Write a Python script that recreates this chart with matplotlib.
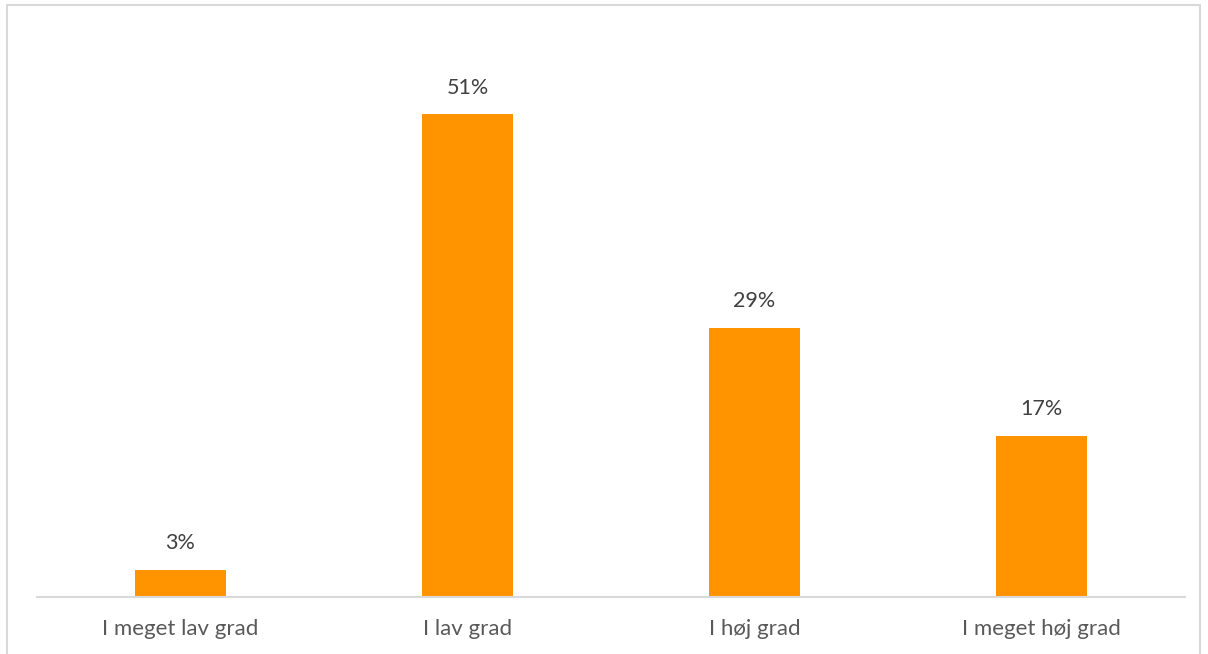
import matplotlib.pyplot as plt
from matplotlib.patches import Rectangle

categories = ["I meget lav grad", "I lav grad", "I høj grad", "I meget høj grad"]
values = [2.9, 51.0, 28.4, 17.0]
value_labels = ["3%", "51%", "29%", "17%"]

plt.rcParams['font.family'] = ['Lato', 'DejaVu Sans']

fig = plt.figure(figsize=(12.08, 6.54), dpi=100)
W, H = 1208, 654

# outer chart border
fig.patches.append(Rectangle((7 / W, -0.02), (1200 - 7) / W, 1.02 - 5 / H - 0.0,
                             transform=fig.transFigure, fill=False,
                             edgecolor='#D9D9D9', linewidth=1.5))

ax = fig.add_axes([37 / W, (H - 597) / H, (1185 - 37) / W, (597 - 29) / H])
x = range(len(categories))
bars = ax.bar(x, values, width=0.315, color='#FF9300')

for b, lab in zip(bars, value_labels):
    ax.annotate(lab, (b.get_x() + b.get_width() / 2, b.get_height()),
                xytext=(0, 12), textcoords='offset points', ha='center', va='bottom',
                fontsize=15.5, color='#404040')

ax.set_xlim(-0.5, len(categories) - 0.5)
ax.set_ylim(0, 60)
ax.set_xticks(list(x))
ax.set_xticklabels(categories, fontsize=16, color='#595959')
ax.tick_params(axis='x', length=0, pad=16)
ax.set_yticks([])
for s in ['top', 'right', 'left']:
    ax.spines[s].set_visible(False)
ax.spines['bottom'].set_color('#D9D9D9')
ax.spines['bottom'].set_linewidth(1.5)

fig.savefig("out.png", dpi=100)
